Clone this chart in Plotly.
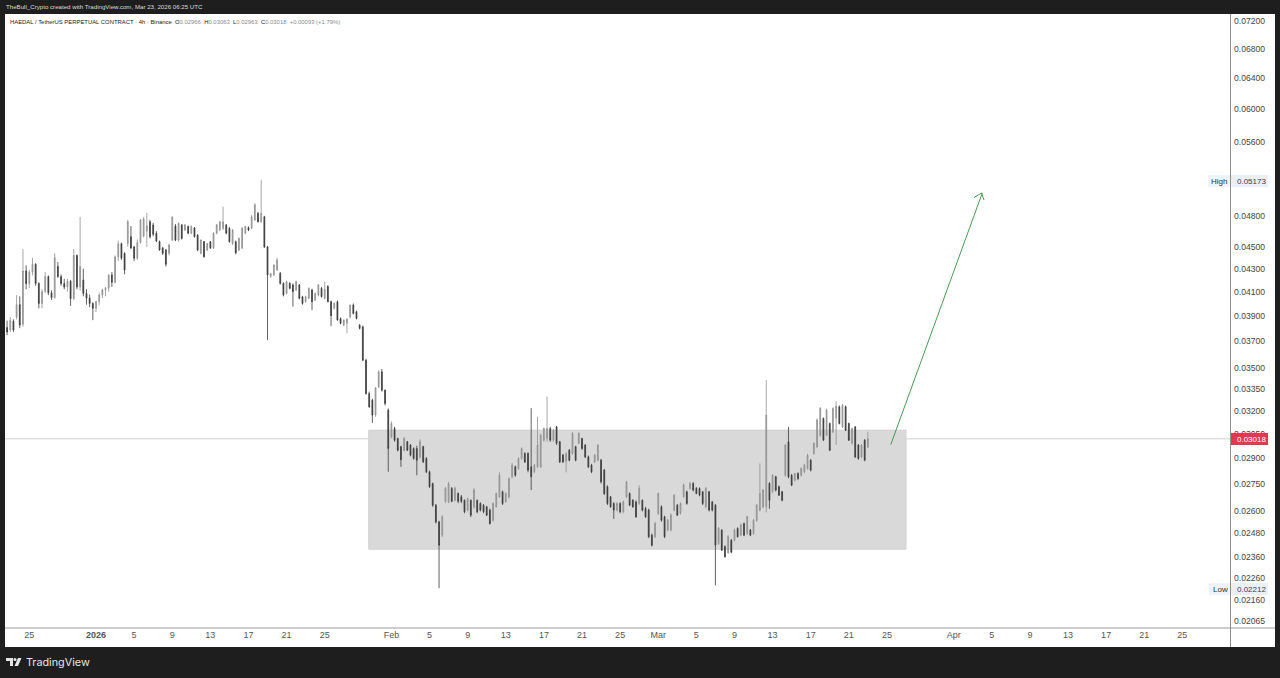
import math
import pandas as pd
import plotly.graph_objects as go

opens = [
0.03805,0.03785,0.03855,0.0389,0.0399,0.0383,0.0428,0.0417,0.0427,0.0434,
0.0417,0.04,0.041,0.0423,0.0409,0.0405,0.0432,0.0423,0.0417,0.0414,
0.0419,0.0404,0.0442,0.0414,0.042,0.04085,0.04045,0.04,0.0396,0.04015,
0.04071,0.04114,0.0413,0.04244,0.0418,0.04407,0.0453,0.0444,0.0453,0.04596,
0.045,0.04395,0.0454,0.046,0.0465,0.04742,0.0471,0.0463,0.0455,0.0449,
0.04471,0.0444,0.04564,0.047,0.04564,0.0471,0.04661,0.04695,0.0463,0.0468,
0.04612,0.0444,0.0455,0.04471,0.04548,0.0449,0.0463,0.04661,0.04677,0.0471,
0.04677,0.0453,0.04548,0.04471,0.0449,0.0463,0.04685,0.04677,0.04758,0.04825,
0.04742,0.0479,0.045,0.0423,0.04244,0.04288,0.04259,0.04171,0.04085,0.04171,
0.04157,0.04114,0.04157,0.04057,0.04015,0.04043,0.04114,0.04028,0.04071,0.04128,
0.04043,0.04143,0.04015,0.0396,0.04015,0.03877,0.03824,0.03838,0.0389,0.03987,
0.03932,0.03824,0.03811,0.03555,0.03316,0.03271,0.03171,0.03364,0.0347,0.0334,
0.03204,0.03031,0.03084,0.0302,0.02969,0.02948,0.03,0.02979,0.02958,0.02958,
0.02907,0.02969,0.02897,0.02818,0.0275,0.02629,0.02539,0.0247,0.0265,0.02645,
0.02722,0.02656,0.02693,0.02675,0.02656,0.02602,0.02656,0.0262,0.02656,0.02638,
0.02629,0.0262,0.02602,0.02548,0.0262,0.02675,0.02703,0.02647,0.02675,0.02789,
0.02847,0.02837,0.02897,0.02927,0.02927,0.02847,0.02818,0.02847,0.02847,0.0301,
0.0302,0.03084,0.0301,0.03094,0.03,0.02917,0.0288,0.02948,0.02927,0.02969,
0.0299,0.0302,0.02979,0.02907,0.02857,0.02877,0.02887,0.02887,0.02828,0.02732,
0.02675,0.02638,0.02602,0.02638,0.02593,0.02675,0.02693,0.02656,0.02647,0.02638,
0.02656,0.02611,0.02602,0.0247,0.02462,0.02584,0.0262,0.02566,0.02496,0.02496,
0.02602,0.02629,0.02584,0.02675,0.02703,0.02722,0.0275,0.02722,0.02722,0.02703,
0.0262,0.02703,0.02647,0.02629,0.02427,0.02496,0.02411,0.02381,0.02444,0.02444,
0.02505,0.0247,0.0253,0.02478,0.02496,0.02478,0.02548,0.02602,0.0262,0.0262,
0.0275,0.02703,0.02789,0.02732,0.02703,0.02798,0.03,0.02798,0.02769,0.02808,
0.02798,0.02818,0.02837,0.02887,0.02927,0.02969,0.03041,0.03149,0.03041,0.03116,
0.03062,0.0315,0.03226,0.03094,0.03226,0.03116,0.0299,0.03094,0.02979,0.02907,
0.0301,0.02966]
highs = [
0.0386,0.0389,0.0387,0.04071,0.0406,0.04478,0.0433,0.0429,0.044,0.0435,
0.0418,0.0412,0.0427,0.0424,0.0411,0.0444,0.0436,0.0425,0.0421,0.0421,
0.042,0.0448,0.0443,0.0479,0.043,0.0412,0.04075,0.0401,0.0402,0.0409,
0.04125,0.0414,0.0425,0.0427,0.0442,0.0456,0.0454,0.0445,0.0476,0.047,
0.0451,0.0457,0.0477,0.0479,0.0483,0.0476,0.0473,0.0465,0.0456,0.045,
0.0448,0.0453,0.0479,0.0472,0.04735,0.0472,0.0472,0.04705,0.04705,0.0469,
0.0462,0.0457,0.04555,0.04535,0.04555,0.0464,0.0472,0.0475,0.04893,0.0472,
0.0469,0.0467,0.0456,0.0459,0.0469,0.047,0.04695,0.0481,0.0493,0.0484,
0.05172,0.048,0.0451,0.04265,0.0434,0.044,0.0427,0.0418,0.04195,0.0418,
0.0417,0.04195,0.04165,0.04065,0.04065,0.04135,0.04125,0.0409,0.04165,0.0414,
0.04185,0.04155,0.04025,0.0401,0.04025,0.03885,0.0387,0.0388,0.0399,0.04,
0.0394,0.0383,0.0382,0.03565,0.0333,0.0328,0.0336,0.0348,0.0349,0.03345,
0.03215,0.0313,0.03095,0.03025,0.02975,0.0303,0.03005,0.02985,0.02965,0.02975,
0.03015,0.02975,0.02905,0.02825,0.02755,0.02635,0.02545,0.02575,0.0273,0.0276,
0.0273,0.02732,0.027,0.02685,0.0266,0.0267,0.0266,0.02725,0.0266,0.02645,
0.02635,0.02625,0.0261,0.02645,0.027,0.02815,0.0271,0.027,0.02785,0.0287,
0.02855,0.02905,0.02965,0.02935,0.02935,0.03217,0.02865,0.0316,0.0305,0.0309,
0.03295,0.03095,0.0308,0.031,0.03005,0.02925,0.02935,0.02955,0.0306,0.02975,
0.0306,0.03025,0.02985,0.02915,0.02865,0.02925,0.02985,0.02895,0.02835,0.0274,
0.0268,0.02645,0.02645,0.02645,0.02655,0.02765,0.027,0.02662,0.02655,0.0274,
0.0266,0.0262,0.0261,0.02478,0.0254,0.027,0.02628,0.02572,0.02555,0.02585,
0.0269,0.02635,0.02645,0.0275,0.0271,0.0276,0.02758,0.0273,0.02728,0.02708,
0.0273,0.02708,0.02652,0.02635,0.02512,0.025,0.02418,0.0247,0.0245,0.02505,
0.0251,0.0253,0.02536,0.02572,0.02502,0.02555,0.02635,0.02867,0.0272,0.0341,
0.02758,0.02805,0.02795,0.02738,0.02708,0.02985,0.03094,0.02805,0.02812,0.02815,
0.02845,0.02865,0.02925,0.02893,0.02995,0.0315,0.03225,0.03155,0.03212,0.03122,
0.03222,0.03265,0.03235,0.03245,0.03235,0.03122,0.0309,0.031,0.02985,0.02985,
0.03016,0.03063]
lows = [
0.03745,0.0377,0.0377,0.0387,0.038,0.0381,0.0412,0.0413,0.0424,0.0415,
0.0396,0.0396,0.0409,0.0407,0.0403,0.0404,0.0422,0.0415,0.0412,0.041,
0.0398,0.0403,0.0412,0.0411,0.0406,0.0399,0.0397,0.03864,0.0393,0.03985,
0.04045,0.0406,0.041,0.0414,0.0417,0.0437,0.0438,0.0425,0.045,0.0448,
0.0437,0.0438,0.0453,0.0459,0.045,0.0458,0.046,0.04545,0.04465,0.04425,
0.0432,0.0442,0.04555,0.04555,0.0455,0.0457,0.0465,0.0462,0.0462,0.0459,
0.0446,0.0443,0.044,0.0446,0.0448,0.0448,0.0462,0.0465,0.0466,0.0462,
0.0454,0.0452,0.0443,0.0446,0.0448,0.0462,0.0465,0.0467,0.0475,0.04735,
0.0473,0.0449,0.03706,0.0422,0.04235,0.0428,0.0416,0.0406,0.04075,0.0412,
0.03975,0.04105,0.04035,0.0399,0.04005,0.04035,0.03945,0.0402,0.0406,0.0405,
0.04035,0.0401,0.03815,0.0395,0.0386,0.0383,0.03815,0.0376,0.0388,0.0391,
0.0387,0.0379,0.0355,0.0331,0.0322,0.0312,0.0316,0.03355,0.0333,0.03235,
0.02818,0.0302,0.03,0.0294,0.02847,0.0294,0.02942,0.0291,0.0289,0.02798,
0.02895,0.0287,0.0281,0.02725,0.0262,0.0253,0.02212,0.0246,0.0264,0.0264,
0.02645,0.0265,0.0264,0.0264,0.02585,0.02595,0.02565,0.0261,0.02585,0.02595,
0.02585,0.0257,0.02525,0.0254,0.02615,0.0267,0.0263,0.02645,0.02665,0.0278,
0.0279,0.0283,0.0289,0.0287,0.02815,0.02713,0.0281,0.0284,0.0284,0.03,
0.03,0.03,0.03,0.0298,0.0287,0.0287,0.02815,0.0288,0.0292,0.0288,
0.02985,0.0295,0.029,0.0284,0.0281,0.0287,0.0288,0.0275,0.02685,0.0263,
0.02615,0.02555,0.02595,0.02585,0.02585,0.0267,0.02625,0.02615,0.0256,0.0263,
0.02595,0.0256,0.02455,0.02412,0.02455,0.02575,0.0254,0.02455,0.0249,0.0249,
0.02595,0.0257,0.02578,0.0267,0.02632,0.02715,0.02705,0.0269,0.02678,0.0263,
0.02612,0.02595,0.02595,0.02225,0.0242,0.0239,0.02358,0.02375,0.02378,0.02438,
0.02458,0.02465,0.02465,0.02472,0.02465,0.02472,0.0254,0.02595,0.02612,0.0259,
0.0261,0.02695,0.02705,0.0268,0.0265,0.0279,0.0278,0.02735,0.02762,0.0277,
0.0279,0.0281,0.0283,0.0282,0.0292,0.0296,0.0303,0.03005,0.03035,0.02942,
0.03055,0.0298,0.0311,0.03088,0.03068,0.03005,0.02982,0.029,0.0289,0.029,
0.0288,0.02963]
closes = [
0.0377,0.0386,0.03785,0.0399,0.03824,0.0428,0.0417,0.0427,0.0434,0.0417,
0.04,0.041,0.0423,0.0409,0.0405,0.044,0.0423,0.0417,0.0414,0.0419,
0.0404,0.0442,0.0414,0.0432,0.04085,0.04045,0.04,0.0396,0.04015,0.04071,
0.04114,0.0413,0.04244,0.0418,0.04407,0.0453,0.04395,0.04288,0.04742,0.0449,
0.04395,0.0454,0.04758,0.0477,0.047,0.04596,0.0462,0.04555,0.04471,0.0444,
0.0434,0.04517,0.0479,0.04564,0.04725,0.0458,0.0471,0.0463,0.04695,0.04596,
0.04471,0.04564,0.04409,0.0453,0.0449,0.0463,0.0471,0.04742,0.0474,0.0463,
0.04548,0.04661,0.04445,0.0458,0.04677,0.04695,0.04661,0.0479,0.0491,0.04742,
0.04825,0.045,0.04245,0.04255,0.04333,0.04378,0.04171,0.04071,0.04185,0.04128,
0.041,0.04185,0.04043,0.04,0.04057,0.04128,0.04015,0.04085,0.04157,0.04057,
0.0412,0.04015,0.039,0.04,0.03864,0.03838,0.03864,0.0387,0.03987,0.03918,
0.03877,0.03798,0.03555,0.03316,0.03226,0.03171,0.03355,0.0347,0.0334,0.03249,
0.02958,0.03116,0.0301,0.02948,0.0289,0.0302,0.02948,0.02917,0.02897,0.02887,
0.03,0.02877,0.02818,0.02732,0.02629,0.02539,0.02419,0.02566,0.02722,0.0275,
0.0265,0.02722,0.0265,0.0265,0.02593,0.02665,0.02575,0.02713,0.02593,0.02602,
0.02593,0.02575,0.0253,0.02638,0.02693,0.02798,0.02638,0.02693,0.02778,0.02857,
0.02798,0.02897,0.02958,0.02877,0.02828,0.02789,0.02857,0.02979,0.03041,0.03084,
0.03084,0.0301,0.03073,0.0299,0.02877,0.02877,0.02925,0.02887,0.03052,0.02887,
0.03052,0.02958,0.02907,0.02847,0.02818,0.02917,0.02979,0.0276,0.02693,0.02638,
0.0262,0.02602,0.02638,0.02593,0.02647,0.0276,0.02629,0.0262,0.02566,0.02722,
0.02602,0.02566,0.02462,0.02419,0.0253,0.02693,0.02548,0.02462,0.02548,0.02575,
0.02684,0.02575,0.02638,0.02741,0.02638,0.0275,0.02713,0.02693,0.02684,0.02638,
0.02722,0.02602,0.02602,0.02419,0.02505,0.02394,0.02361,0.02462,0.02384,0.02496,
0.02462,0.02522,0.0247,0.02566,0.0247,0.02548,0.02629,0.02693,0.02713,0.03171,
0.02656,0.02798,0.02713,0.02684,0.02656,0.02979,0.02789,0.02741,0.02808,0.02779,
0.02837,0.02857,0.02917,0.02828,0.0299,0.03138,0.03215,0.0301,0.03204,0.02948,
0.03215,0.0323,0.03116,0.03237,0.03073,0.0301,0.03084,0.02907,0.02897,0.02979,
0.02887,0.03018]

price_ticks = [0.072,0.068,0.064,0.06,0.056,0.048,0.045,0.043,0.041,0.039,0.037,0.035,0.0335,
               0.032,0.0305,0.029,0.0275,0.026,0.0248,0.0236,0.0226,0.0216,0.02065]
price_labels = ["0.07200","0.06800","0.06400","0.06000","0.05600","0.04800","0.04500","0.04300","0.04100",
                "0.03900","0.03700","0.03500","0.03350","0.03200","0.03050","0.02900","0.02750","0.02600",
                "0.02480","0.02360","0.02260","0.02160","0.02065"]
date_ticks = ["2025-12-25","2026-01-01","2026-01-05","2026-01-09","2026-01-13","2026-01-17","2026-01-21","2026-01-25",
              "2026-02-01","2026-02-05","2026-02-09","2026-02-13","2026-02-17","2026-02-21","2026-02-25",
              "2026-03-01","2026-03-05","2026-03-09","2026-03-13","2026-03-17","2026-03-21","2026-03-25",
              "2026-04-01","2026-04-05","2026-04-09","2026-04-13","2026-04-17","2026-04-21","2026-04-25"]
date_labels = ["25","<b>2026</b>","5","9","13","17","21","25","Feb","5","9","13","17","21","25",
               "Mar","5","9","13","17","21","25","Apr","5","9","13","17","21","25"]
last_price = 0.03018
high_price = 0.05173
low_price = 0.02212
zone_top, zone_bottom = 0.03073, 0.02399
zone_start, zone_end = "2026-01-29 15:00", "2026-03-27 00:00"
arrow_tip_date, arrow_tip_price = "2026-04-04 00:00", 0.05033

W, H = 1280, 678
L, R, T, B = 5, 1230, 14, 628
BG = "#1e1e1e"
GREEN = "#4a9a55"
def px(x): return (x - L) / (R - L)
def py(y): return (B - y) / (B - T)

dates = pd.date_range("2025-12-22 16:00", periods=len(closes), freq="8h")

fig = go.Figure(go.Candlestick(
    x=dates, open=opens, high=highs, low=lows, close=closes,
    increasing=dict(line=dict(color="#8f8f8f", width=0.8), fillcolor="#a8a8a8"),
    decreasing=dict(line=dict(color="#3a3a3a", width=0.8), fillcolor="#3a3a3a"),
    whiskerwidth=0, showlegend=False, hoverinfo="skip"))

def band(x0, y0, x1, y1, color):
    return dict(type="rect", xref="paper", yref="paper", x0=px(x0), x1=px(x1), y0=py(y0), y1=py(y1),
                fillcolor=color, line_width=0, layer="above")
def pline(x0, y0, x1, y1, color):
    return dict(type="line", xref="paper", yref="paper", x0=px(x0), x1=px(x1), y0=py(y0), y1=py(y1),
                line=dict(color=color, width=1), layer="above")

shapes = [
    dict(type="rect", xref="x", yref="y", x0=zone_start, x1=zone_end, y0=zone_bottom, y1=zone_top,
         fillcolor="#d9d9d9", line=dict(color="#cfcfcf", width=1), layer="below"),
    dict(type="line", xref="paper", yref="y", x0=0, x1=1, y0=last_price, y1=last_price,
         line=dict(color="#d2d2d2", width=1), layer="below"),
    band(0, 0, W, 14, BG), band(0, 647, W, H, BG), band(0, 0, 5, H, BG), band(1275, 0, W, H, BG),
    pline(5, 628, 1275, 628, "#9a9a9a"), pline(1230.5, 14, 1230.5, 647, "#8f8f8f"),
    band(1231, 175, 1268, 187, "#e9f0f9"), band(1208, 175, 1230, 187, "#eef3fa"),
    band(1231, 583, 1268, 595, "#e9f0f9"), band(1209, 583, 1230, 595, "#eef3fa"),
    band(1231, 433, 1268, 445, "#e8364f"),
    pline(981.5, 193, 974, 197.5, GREEN), pline(981.5, 193, 984, 200, GREEN),
    # TradingView logo
    band(6, 658, 13, 661, "#e6e6e6"), band(10, 658, 13, 666, "#e6e6e6"),
    dict(type="circle", xref="paper", yref="paper", x0=px(13.5), x1=px(16.5), y0=py(661), y1=py(658),
         fillcolor="#e6e6e6", line_width=0, layer="above"),
    dict(type="path", xref="paper", yref="paper", layer="above", fillcolor="#e6e6e6", line_width=0,
         path=f"M {px(18)} {py(658)} L {px(21.5)} {py(658)} L {px(18)} {py(666)} L {px(14.5)} {py(666)} Z"),
]

def label(x, y, text, color="#3c3c3c", size=8, anchor="left", family="Liberation Sans"):
    return dict(xref="paper", yref="paper", x=px(x), y=py(y), text=text, showarrow=False,
                xanchor=anchor, yanchor="middle", font=dict(color=color, size=size, family=family), borderpad=0)

legend_text = ('<span style="color:#222">HAEDAL / TetherUS PERPETUAL CONTRACT · 4h · Binance</span>  '
               '<span style="color:#222">O</span>0.02966  <span style="color:#222">H</span>0.03063  '
               '<span style="color:#222">L</span>0.02963  <span style="color:#222">C</span>0.03018  +0.00093 (+1.79%)')
annotations = [
    label(5, 7, "TheBull_Crypto created with TradingView.com, Mar 23, 2026 06:25 UTC", "#dddddd", 6.15),
    label(9, 21.5, legend_text, "#8a8a8a", 5.9),
    label(1219, 181, "High", "#333333", 8, "center"), label(1236, 181, f"{high_price:.5f}"),
    label(1220, 589, "Low", "#333333", 8, "center"), label(1236, 589, f"{low_price:.5f}"),
    label(1236, 439.5, f"{last_price:.5f}", "#ffffff"),
    label(25, 662, "TradingView", "#e6e6e6", 10.8, family="Inter"),
    dict(xref="x", yref="y", x=arrow_tip_date, y=math.log10(arrow_tip_price), ax=-92, ay=253,
         axref="pixel", ayref="pixel", showarrow=True, arrowhead=0, arrowwidth=1,
         arrowcolor=GREEN, text=""),
]

fig.update_layout(
    width=W, height=H, autosize=False,
    margin=dict(l=L, r=W - R, t=T, b=H - B, pad=0),
    paper_bgcolor="#ffffff", plot_bgcolor="#ffffff",
    showlegend=False, shapes=shapes, annotations=annotations, boxgap=0.62,
    font=dict(family="Liberation Sans", size=8, color="#444444"),
    xaxis=dict(type="date", range=["2025-12-22 10:48", "2026-04-30 00:00"], rangeslider=dict(visible=False),
               showgrid=False, zeroline=False, showline=False, ticks="",
               tickmode="array", tickvals=date_ticks, ticktext=date_labels, tickangle=0,
               tickfont=dict(size=9, color="#555555", family="Liberation Sans")),
    yaxis=dict(type="log", side="right", range=[math.log10(0.02036), math.log10(0.07306)],
               showgrid=False, zeroline=False, showline=False, ticks="", ticklabelstandoff=3,
               tickmode="array", tickvals=price_ticks, ticktext=price_labels,
               tickfont=dict(size=8.6, color="#444444", family="Liberation Sans")),
)

fig.write_html("out.html", config=dict(displayModeBar=False),
               post_script="document.body.style.margin='0';document.body.style.overflow='hidden';")
